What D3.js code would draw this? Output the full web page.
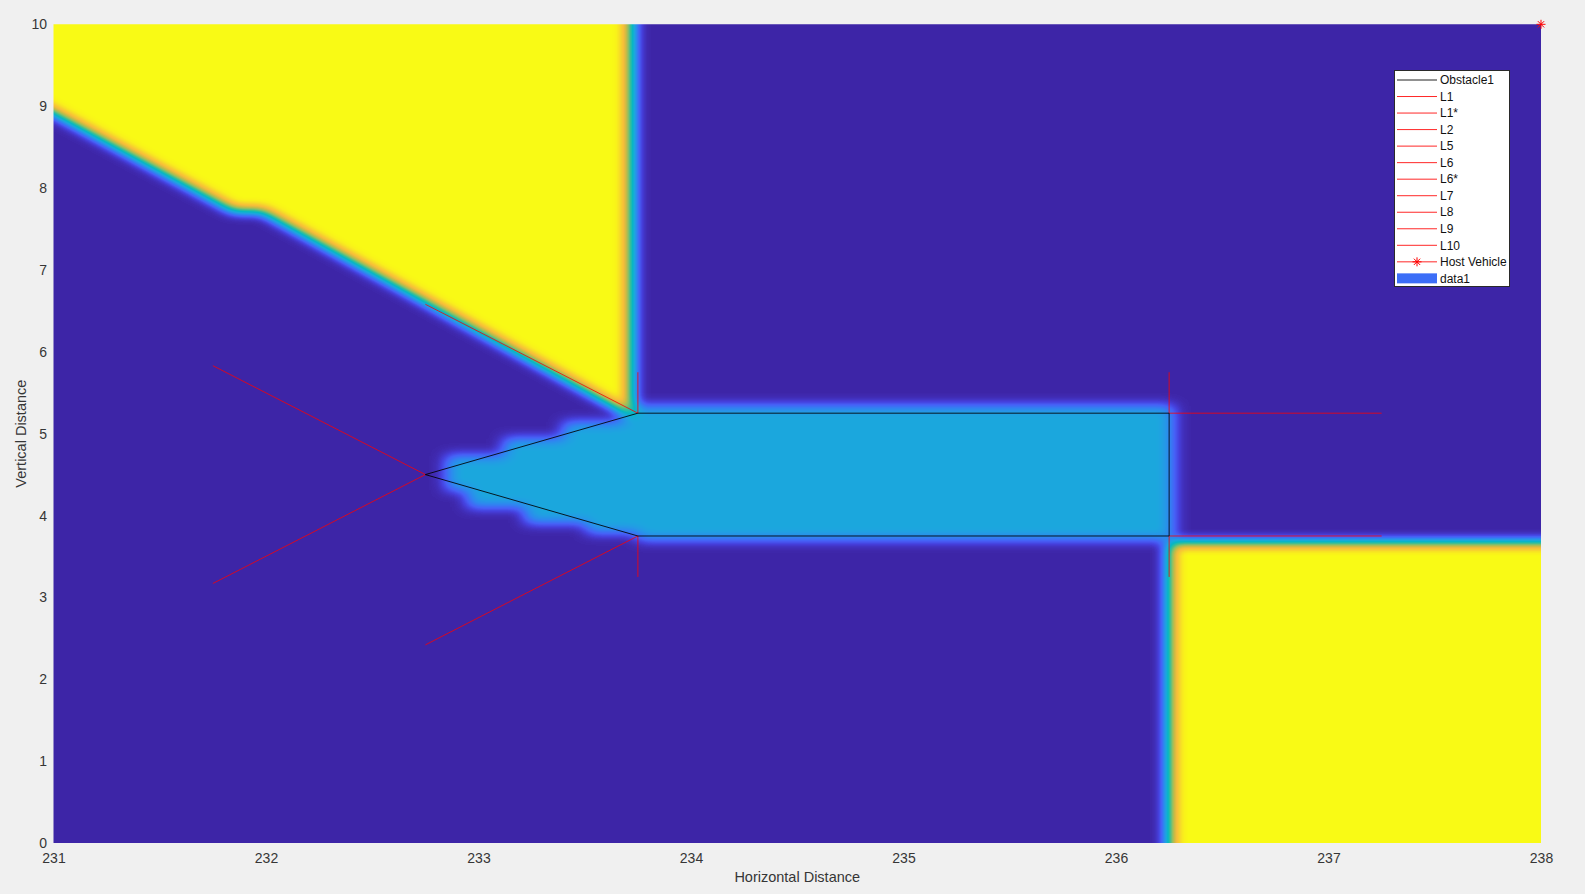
<!DOCTYPE html>
<html>
<head>
<meta charset="utf-8">
<script src="https://cdn.jsdelivr.net/npm/d3@7"></script>
<style>
  html, body { margin: 0; padding: 0; background: #f0f0f0; }
  svg { display: block; font-family: "Liberation Sans", Arial, Helvetica, sans-serif; }
</style>
</head>
<body>
<div id="chart"></div>
<script>
// axis ticks
const xTicks = [231, 232, 233, 234, 235, 236, 237, 238];
const yTicks = [0, 1, 2, 3, 4, 5, 6, 7, 8, 9, 10];

// obstacle outline
const obstacle1 = [[232.75, 4.5], [233.75, 5.25], [236.25, 5.25], [236.25, 3.75], [233.75, 3.75], [232.75, 4.5]];

// red construction lines
const lineNames = ["L1", "L1*", "L2", "L5", "L6", "L6*", "L7", "L8", "L9", "L10"];
const lineSegments = [
  [[232.75, 4.5], [231.75, 5.83]],
  [[232.75, 4.5], [231.75, 3.17]],
  [[233.75, 5.25], [232.75, 6.58]],
  [[233.75, 3.75], [232.75, 2.42]],
  [[233.75, 5.25], [233.75, 5.75]],
  [[233.75, 3.75], [233.75, 3.25]],
  [[236.25, 5.25], [236.25, 5.75]],
  [[236.25, 3.75], [236.25, 3.25]],
  [[236.25, 5.25], [237.25, 5.25]],
  [[236.25, 3.75], [237.25, 3.75]]
];

const hostVehicle = [238, 10];

// field (data1): value of each zone on the colour map
const freeLevel = 0;
const obstacleLevel = 0.35;
const blockedLevel = 1;
const blockedTopLeft = [[230.6, 10.6], [233.72, 10.6], [233.72, 5.22], [231.98, 7.72], [231.85, 7.72], [231.0, 8.92], [230.6, 9.48]];
const blockedBottomRight = [[236.25, 3.67], [238.6, 3.67], [238.6, -0.6], [236.25, -0.6]];
const obstacleZone = [
  [232.85, 4.73], [233.12, 4.73], [233.12, 4.94], [233.40, 4.94], [233.40, 5.14], [233.68, 5.14],
  [233.68, 5.34], [236.27, 5.34], [236.27, 3.70], [233.75, 3.70], [233.75, 3.79], [233.51, 3.79],
  [233.51, 3.91], [233.22, 3.91], [233.22, 4.10], [232.95, 4.10], [232.95, 4.31], [232.85, 4.31]
];

// parula-like colour map
const cmapStops = [0, 0.08, 0.15, 0.25, 0.35, 0.45, 0.55, 0.65, 0.75, 0.85, 0.92, 1];
const cmapColors = ["#3e26a8", "#4640dc", "#4760f8", "#2e88f0", "#1ca8de", "#06b7c4", "#38bf97",
                    "#86c06a", "#c9bb45", "#f8bd3a", "#f8d42d", "#f9fb15"];

const legendNames = ["Obstacle1", ...lineNames, "Host Vehicle", "data1"];

const W = 1585, H = 894;
const svg = d3.select("#chart").append("svg").attr("width", W).attr("height", H);

const x = d3.scaleLinear().domain([231, 238]).range([53.5, 1541]);
const y = d3.scaleLinear().domain([0, 10]).range([843, 24.3]);

const cmap = d3.scaleLinear().domain(cmapStops).range(cmapColors).interpolate(d3.interpolateRgb);
const samples = d3.range(65).map(i => d3.rgb(cmap(i / 64)));

const defs = svg.append("defs");
defs.append("clipPath").attr("id", "plotclip")
  .append("rect")
  .attr("x", x(231)).attr("y", y(10))
  .attr("width", x(238) - x(231)).attr("height", y(0) - y(10));

const filter = defs.append("filter")
  .attr("id", "parula")
  .attr("filterUnits", "userSpaceOnUse")
  .attr("x", 0).attr("y", 0).attr("width", W).attr("height", H)
  .attr("color-interpolation-filters", "sRGB");
filter.append("feGaussianBlur").attr("stdDeviation", "8 6");
const ct = filter.append("feComponentTransfer");
ct.append("feFuncR").attr("type", "table").attr("tableValues", samples.map(c => (c.r / 255).toFixed(4)).join(" "));
ct.append("feFuncG").attr("type", "table").attr("tableValues", samples.map(c => (c.g / 255).toFixed(4)).join(" "));
ct.append("feFuncB").attr("type", "table").attr("tableValues", samples.map(c => (c.b / 255).toFixed(4)).join(" "));

const gray = v => d3.rgb(v * 255, v * 255, v * 255).formatHex();
const poly = d3.line().x(d => x(d[0])).y(d => y(d[1]));

// field, drawn as levels then mapped through the colour map
const field = svg.append("g").attr("clip-path", "url(#plotclip)")
  .append("g").attr("filter", "url(#parula)");
field.append("rect")
  .attr("x", x(230.6)).attr("y", y(10.6))
  .attr("width", x(238.6) - x(230.6)).attr("height", y(-0.6) - y(10.6))
  .attr("fill", gray(freeLevel));
field.selectAll("path.zone")
  .data([[obstacleZone, obstacleLevel], [blockedTopLeft, blockedLevel], [blockedBottomRight, blockedLevel]])
  .join("path")
  .attr("class", "zone")
  .attr("d", d => poly(d[0]) + "Z")
  .attr("fill", d => gray(d[1]));

// axes (labels only)
const xAxis = svg.append("g")
  .attr("transform", `translate(0,${y(0)})`)
  .call(d3.axisBottom(x).tickValues(xTicks).tickSize(0).tickPadding(10).tickFormat(d3.format("d")));
const yAxis = svg.append("g")
  .attr("transform", `translate(${x(231)},0)`)
  .call(d3.axisLeft(y).tickValues(yTicks).tickSize(0).tickPadding(6.5).tickFormat(d3.format("d")));
[xAxis, yAxis].forEach(a => {
  a.select(".domain").remove();
  a.selectAll("text").attr("fill", "#363636").style("font-size", "14px");
});

svg.append("text")
  .attr("x", (x(231) + x(238)) / 2).attr("y", 882)
  .attr("text-anchor", "middle").attr("fill", "#363636")
  .style("font-size", "14.5px")
  .text("Horizontal Distance");
svg.append("text")
  .attr("transform", `translate(25.5,${(y(0) + y(10)) / 2}) rotate(-90)`)
  .attr("text-anchor", "middle").attr("fill", "#363636")
  .style("font-size", "14.5px")
  .text("Vertical Distance");

// lines
const marks = svg.append("g");
marks.selectAll("path.lline")
  .data(lineSegments)
  .join("path")
  .attr("class", "lline")
  .attr("d", poly)
  .attr("fill", "none")
  .attr("stroke", "#ff0000")
  .attr("stroke-opacity", 0.78)
  .attr("stroke-width", 1);

marks.append("path")
  .datum(obstacle1)
  .attr("d", poly)
  .attr("fill", "none")
  .attr("stroke", "#000")
  .attr("stroke-opacity", 0.85)
  .attr("stroke-width", 1);

function asterisk(g, cx, cy, r) {
  const a = g.append("g").attr("stroke", "#ff0000").attr("stroke-width", 1);
  const d = r * 0.7;
  [[-r, 0, r, 0], [0, -r, 0, r], [-d, -d, d, d], [-d, d, d, -d]].forEach(s =>
    a.append("line").attr("x1", cx + s[0]).attr("y1", cy + s[1]).attr("x2", cx + s[2]).attr("y2", cy + s[3]));
}
asterisk(marks, x(hostVehicle[0]), y(hostVehicle[1]), 4.5);

// legend
const lg = svg.append("g");
lg.append("rect")
  .attr("x", 1394.5).attr("y", 70.5).attr("width", 115).attr("height", 216)
  .attr("fill", "#fff").attr("stroke", "#2a2a2a").attr("stroke-width", 1);
const row = i => 80 + i * 16.53;
legendNames.forEach((name, i) => {
  const yy = row(i);
  if (name === "data1") {
    lg.append("rect").attr("x", 1397).attr("y", yy - 5).attr("width", 40).attr("height", 10).attr("fill", "#3c6ef7");
  } else {
    lg.append("line")
      .attr("x1", 1397).attr("x2", 1437).attr("y1", yy).attr("y2", yy)
      .attr("stroke", name === "Obstacle1" ? "#222" : "#ff0000")
      .attr("stroke-opacity", name === "Obstacle1" ? 1 : 0.85)
      .attr("stroke-width", 1);
    if (name === "Host Vehicle") asterisk(lg, 1417, yy, 4.5);
  }
  lg.append("text")
    .attr("x", 1440).attr("y", yy).attr("dy", "0.35em")
    .attr("fill", "#111").style("font-size", "12px")
    .text(name);
});
</script>
</body>
</html>
